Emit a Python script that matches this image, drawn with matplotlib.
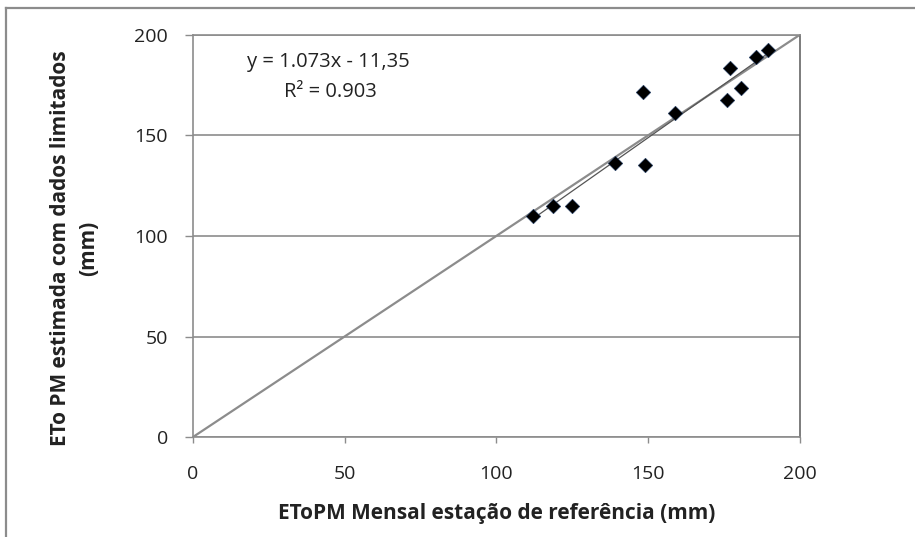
import numpy as np
import matplotlib.pyplot as plt
from matplotlib.lines import Line2D

plt.rcParams['font.family'] = ['Open Sans', 'DejaVu Sans']

# valores mensais (mm)
eto_ref = [112.1, 118.7, 124.9, 139.2, 148.9, 148.4, 159.1, 176.2, 180.6, 177.0, 185.5, 189.6]
eto_est = [109.9, 114.9, 114.9, 136.2, 135.2, 171.7, 161.0, 167.6, 173.6, 183.4, 188.9, 192.5]
linha_11 = [0, 200]
ticks = [0, 50, 100, 150, 200]

W, H = 915, 537
fig = plt.figure(figsize=(W / 100, H / 100), dpi=100)
ax = fig.add_axes([193/W, 1 - 437/H, (799.5 - 193)/W, (437 - 35)/H])

# moldura externa do grafico
fig.add_artist(Line2D([6/W, 6/W], [0, 1 - 8/H], transform=fig.transFigure, color='#8c8c8c', lw=1.6))
fig.add_artist(Line2D([6/W, 1], [1 - 8/H, 1 - 8/H], transform=fig.transFigure, color='#8c8c8c', lw=1.6))

ax.set_xlim(0, 200)
ax.set_ylim(0, 200)
ax.set_xticks(ticks)
ax.set_yticks(ticks)
ax.grid(axis='y', color='#8c8c8c', lw=1.2)
ax.set_axisbelow(True)

for lado in ['left', 'bottom', 'top']:
    ax.spines[lado].set_color('#8c8c8c')
    ax.spines[lado].set_linewidth(1.2)
ax.spines['right'].set_color('#666666')
ax.spines['right'].set_linewidth(1.2)
ax.tick_params(axis='x', length=4, width=1, color='#8c8c8c', labelsize=14, pad=16, labelcolor='#222222')
ax.tick_params(axis='y', length=6, width=1, color='#8c8c8c', labelsize=14, pad=12, labelcolor='#222222')

# linha 1:1
ax.plot(linha_11, linha_11, color='#8c8c8c', lw=1.6, zorder=2)

# tendencia linear
a, b = np.polyfit(eto_ref, eto_est, 1)
xr = np.array([min(eto_ref), max(eto_ref)])
ax.plot(xr, a * xr + b, color='#555555', lw=0.9, zorder=2)

ax.scatter(eto_ref, eto_est, marker='D', s=55, color='black', edgecolors='#1f3b66', linewidths=0.4, zorder=3)

ax.text(0.224, 0.934, 'y = 1.073x - 11,35', transform=ax.transAxes, ha='center', va='center', fontsize=14.5, color='#222222')
ax.text(0.226, 0.859, 'R² = 0.903', transform=ax.transAxes, ha='center', va='center', fontsize=14.5, color='#222222')

ax.set_xlabel('EToPM Mensal estação de referência (mm)', fontsize=15, fontweight='bold', color='#222222')
ax.xaxis.set_label_coords(0.5, -0.165)
fig.text(74.5/W, 1 - 248/H, 'ETo PM estimada com dados limitados\n(mm)', rotation=90, ha='center', va='center',
         multialignment='center', linespacing=1.4, fontsize=15, fontweight='bold', color='#222222')

fig.savefig('out.png', dpi=100)
